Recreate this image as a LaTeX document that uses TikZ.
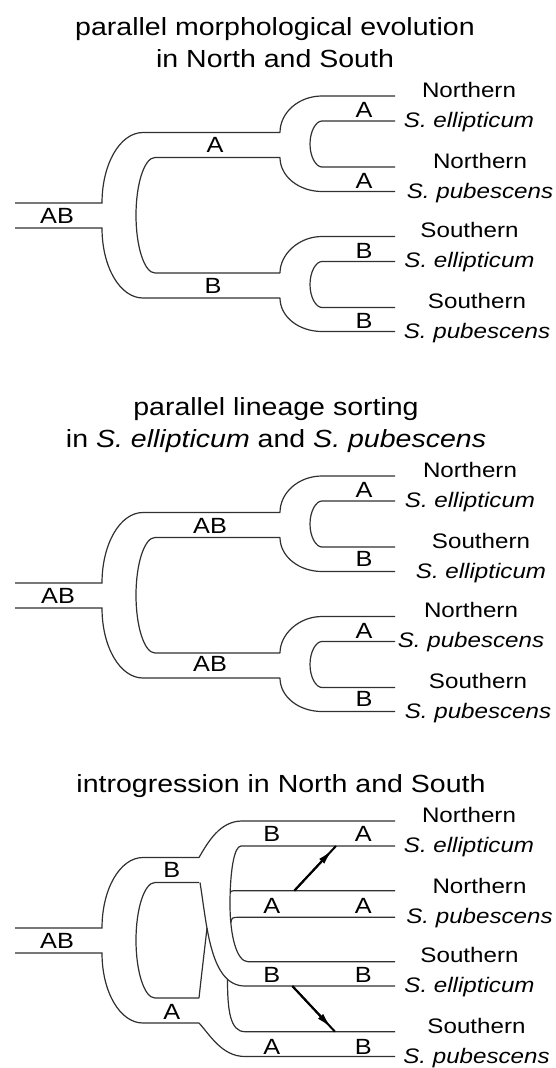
\documentclass[tikz,border=0pt]{standalone}
\usepackage{fontspec}
\setmainfont{Liberation Sans}[FakeStretch=1.15]
\usetikzlibrary{arrows.meta,calc}
\definecolor{treeink}{HTML}{303030}
\tikzset{
  tube/.style={draw=treeink, line width=1.2pt},
  ttl/.style={anchor=base, inner sep=0pt, font=\fontsize{24.8}{30}\selectfont},
  hap/.style={inner sep=0pt, font=\fontsize{22}{26}\selectfont},
  tip/.style={inner sep=0pt, align=center, font=\fontsize{21}{30}\selectfont},
  flow/.style={line width=2pt, color=black},
}
\newcommand{\spE}{\textit{S. ellipticum}}
\newcommand{\spP}{\textit{S. pubescens}}

\begin{document}
\begin{tikzpicture}[x=1pt, y=-1pt]
  \useasboundingbox (0,0) rectangle (556,1068);
  % titles
  \node[ttl] (t1a) at (275,35.5) {parallel morphological evolution};
  \node[ttl] (t1b) at (275,67.5) {in North and South};
  \node[ttl] (t2a) at (276,415.5) {parallel lineage sorting};
  \node[ttl] (t2b) at (276,447.5) {in \spE{} and \spP};
  \node[ttl] (t3) at (281,792) {introgression in North and South};

  % root and first split, same in all three panels
  \foreach \dy/\xe in {0/280, 380/280, 725/199} {
    \begin{scope}[shift={(0,\dy)}]
      \draw[tube] (15,203) -- (102,203) .. controls (102,164) and (120,132.5) .. (143,132.5) -- (\xe,132.5);
      \draw[tube] (15,228) -- (102,228) .. controls (102,267) and (120,298) .. (143,298) -- (\xe,298);
      \draw[tube] (\xe,157.5) -- (155,157.5) .. controls (144.5,157.5) and (136,183.4) .. (136,215.25)
        .. controls (136,247.1) and (144.5,273) .. (155,273) -- (\xe,273);
    \end{scope}
  }

  % second split, panels 1 and 2
  \foreach \dy in {0,380} {
    \begin{scope}[shift={(0,\dy)}]
      \draw[tube] (280,132.5) .. controls (280,112.4) and (298.8,96) .. (322,96) -- (395,96);
      \draw[tube] (280,157.5) .. controls (280,176.3) and (298.8,191.5) .. (322,191.5) -- (395,191.5);
      \draw[tube] (395,121) -- (322,121) .. controls (315.9,121) and (310,131.3) .. (310,144)
        .. controls (310,156.7) and (315.9,167) .. (322,167) -- (395,167);
      \draw[tube] (280,273) .. controls (280,254.2) and (298.8,236.5) .. (322,236.5) -- (395,236.5);
      \draw[tube] (280,298) .. controls (280,316.8) and (298.8,331.5) .. (322,331.5) -- (395,331.5);
      \draw[tube] (395,261.5) -- (322,261.5) .. controls (315.9,261.5) and (310,271.8) .. (310,284.5)
        .. controls (310,297.2) and (315.9,307.5) .. (322,307.5) -- (395,307.5);
    \end{scope}
  }

  % panel 1 labels
  \foreach \x/\y/\t [count=\i] in {57/215.5/AB, 215/145/A, 213/286/B, 364/110/A, 364/181/A, 364/250.5/B, 364/320.5/B}
    \node[hap] (h1-\i) at (\x,\y) {\t};
  \node[tip] (p1ne) at (469,107) {Northern\\\spE};
  \node[tip] (p1np) at (480,177.75) {Northern\\\spP};
  \node[tip] (p1se) at (469.5,247.5) {Southern\\\spE};
  \node[tip] (p1sp) at (477,318) {Southern\\\spP};

  % panel 2 labels
  \begin{scope}[shift={(0,380)}]
    \foreach \x/\y/\t [count=\i] in {58/216/AB, 210/146/AB, 210/284/AB, 364/110/A, 364/178.5/B, 364/250.5/A, 364/318.5/B}
      \node[hap] (h2-\i) at (\x,\y) {\t};
    \node[tip] (p2ne) at (470,107) {Northern\\\spE};
    \node[tip] (p2se) at (481,177.75) {Southern\\\spE};
    \node[tip] (p2np) at (471,247.5) {Northern\\\spP};
    \node[tip] (p2sp) at (478,318) {Southern\\\spP};
  \end{scope}

  % panel 3: crossing and introgression
  \begin{scope}[shift={(0,725)}]
    \draw[tube] (199,132.5) .. controls (208,117) and (220,96) .. (242,96) -- (395,96);
    \draw[tube] (200,157.5) .. controls (207,200) and (210,261) .. (245,261) -- (395,261);
    \draw[tube] (199,273) .. controls (201.5,250) and (204.5,225) .. (207,203);
    \draw[tube] (227.5,254.3) .. controls (227.5,285) and (230,306.7) .. (245,306.7) -- (395,306.7);
    \draw[tube] (199,298) .. controls (210,310) and (222,331.5) .. (245,331.5) -- (395,331.5);
    \draw[tube] (395,121) -- (241,121) .. controls (234,121) and (230,147) .. (230,179)
      .. controls (230,212) and (237,236.7) .. (248,236.7) -- (395,236.7);
    \draw[tube] (230.3,167) .. controls (232,165.7) .. (238,165.7) -- (395,165.7);
    \draw[tube] (230.8,197.6) .. controls (232,192.3) .. (240,192.3) -- (395,192.3);

    \coordinate (npt) at (294.3,165.7);
    \coordinate (neb) at (336,121);
    \coordinate (seb) at (292.3,261);
    \coordinate (spt) at (335,306.7);
    \draw[flow] (npt) -- (neb);
    \draw[flow, -{Latex[length=16pt,width=7pt]}] (npt) -- ($(npt)!0.92!(neb)$);
    \draw[flow] (seb) -- (spt);
    \draw[flow, -{Latex[length=16pt,width=7pt]}] (seb) -- ($(seb)!0.92!(spt)$);

    \foreach \x/\y/\t [count=\i] in {57/215.5/AB, 171.7/145/B, 171.7/286.7/A, 271.7/109/B, 363.3/109/A,
      271.7/181/A, 363.3/181/A, 271.7/250/B, 363.3/250/B, 271.7/321.5/A, 363.3/321.5/B}
      \node[hap] (h3-\i) at (\x,\y) {\t};
    \node[tip] (p3ne) at (469,107) {Northern\\\spE};
    \node[tip] (p3np) at (479.5,177.75) {Northern\\\spP};
    \node[tip] (p3se) at (469.5,247.5) {Southern\\\spE};
    \node[tip] (p3sp) at (476.5,318) {Southern\\\spP};
  \end{scope}
\end{tikzpicture}
\end{document}
